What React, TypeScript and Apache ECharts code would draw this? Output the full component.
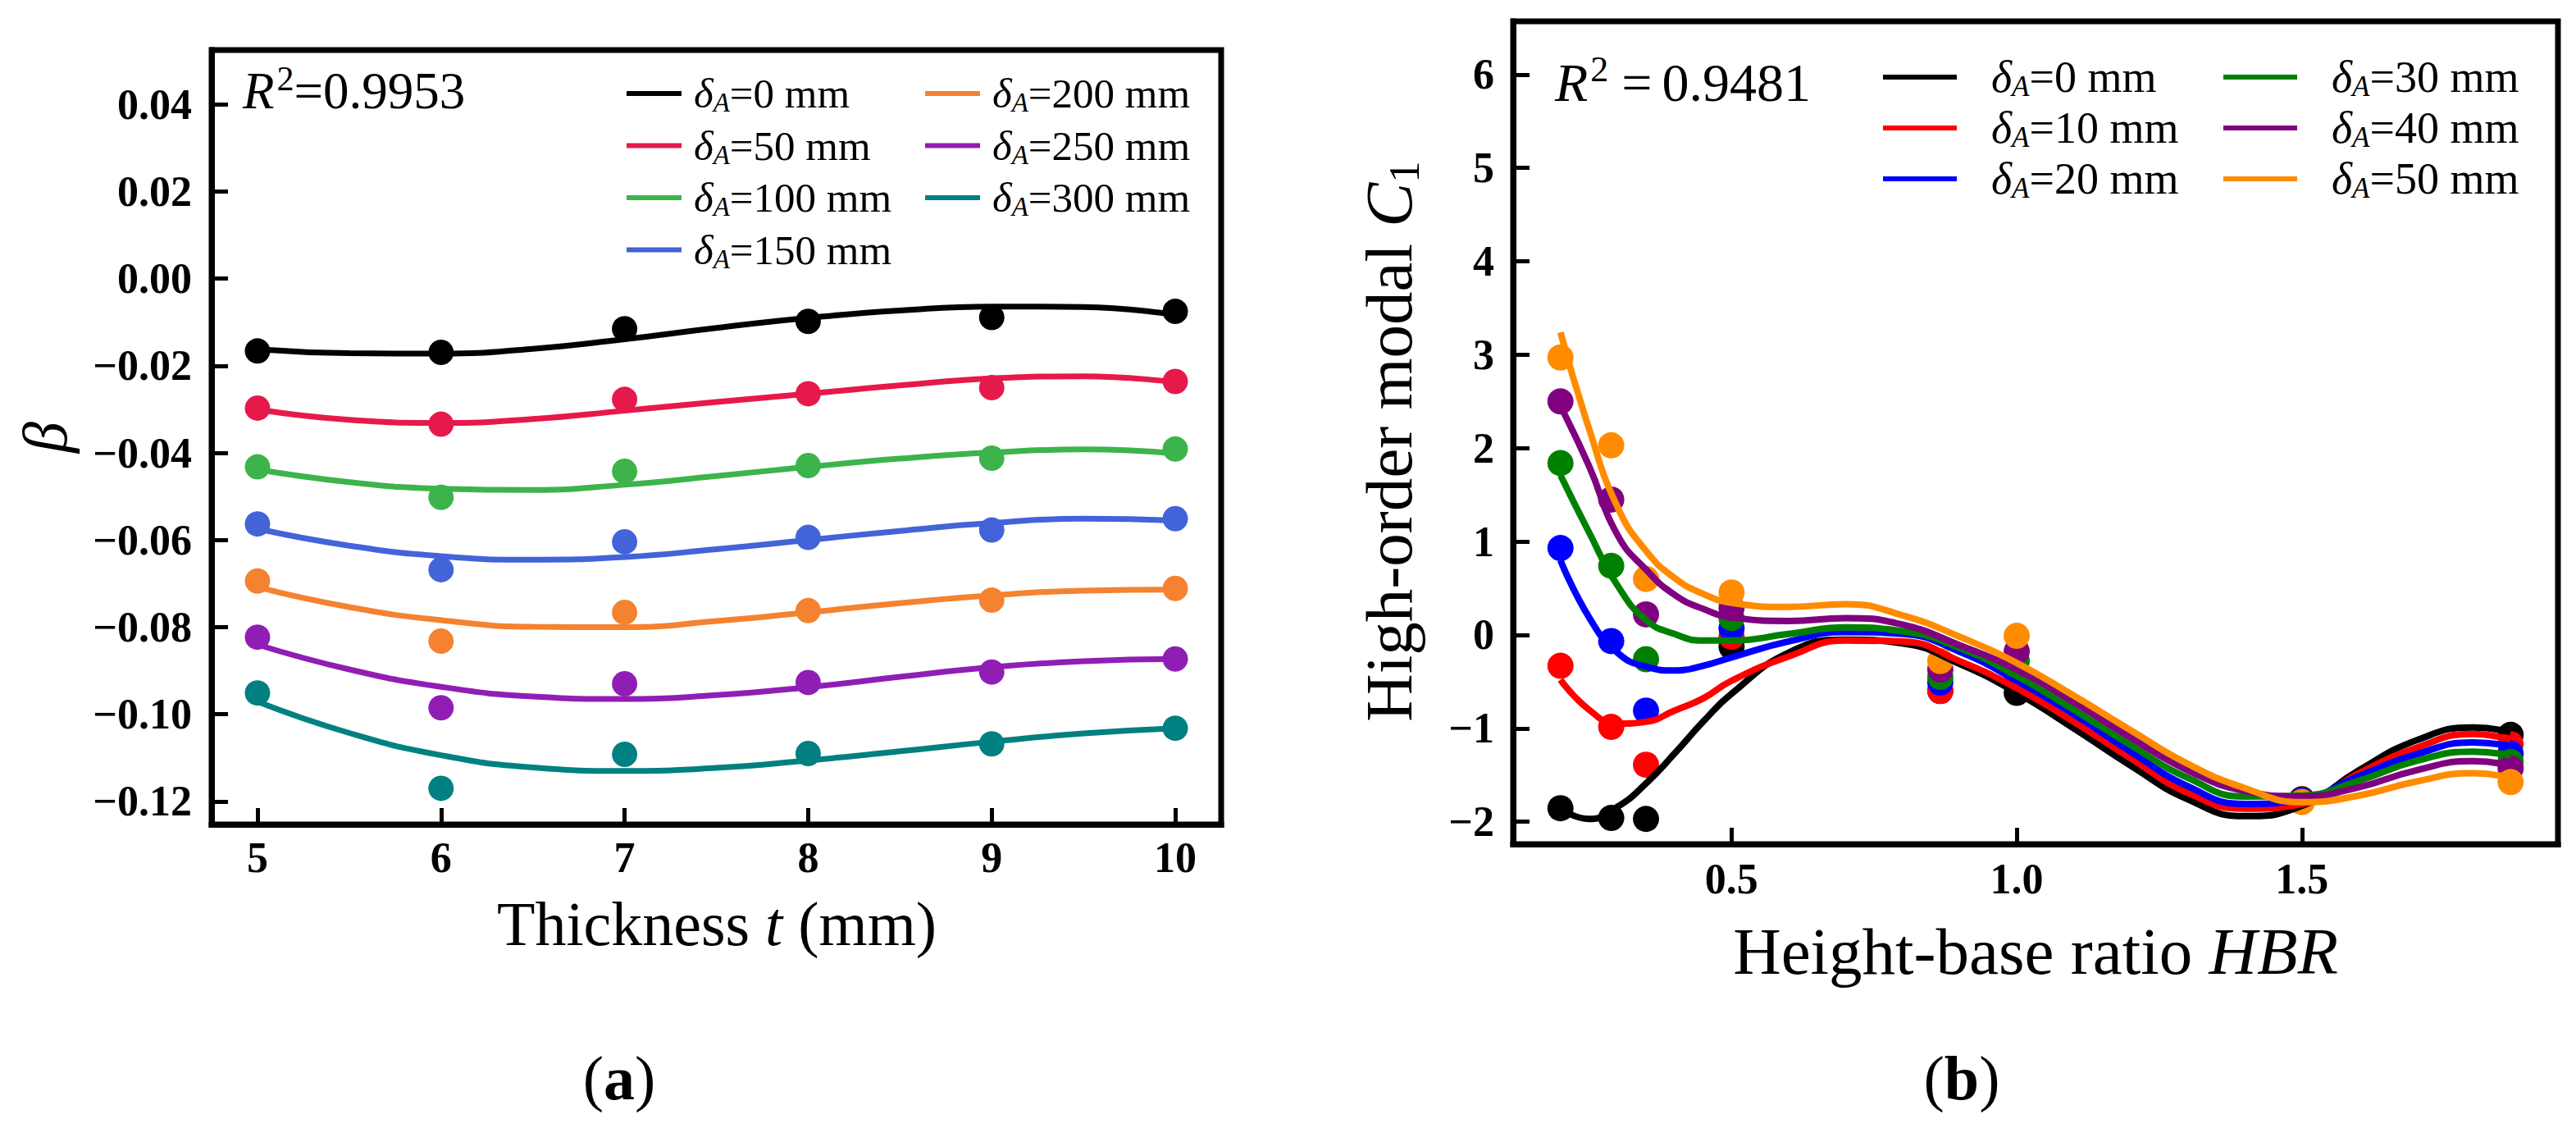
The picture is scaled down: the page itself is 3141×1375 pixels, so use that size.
import { useEffect, useRef } from 'react';
import * as echarts from 'echarts';

const SERIF = "'Liberation Serif', 'Times New Roman', serif";

// panel (a): beta against plate thickness
const thickness = [5, 6, 7, 8, 9, 10];
const thicknessTicks = [5, 6, 7, 8, 9, 10];
const betaTicks = [-0.12, -0.1, -0.08, -0.06, -0.04, -0.02, 0, 0.02, 0.04];
const deltaA = [0, 50, 100, 150, 200, 250, 300];
const colorsA = ['#000000', '#e6194b', '#3cb44b', '#4363d8', '#f58231', '#911eb4', '#008080'];
const betaMeasured = [
  [-0.0166, -0.0169, -0.0115, -0.0098, -0.0089, -0.0075],
  [-0.0297, -0.0334, -0.0277, -0.0264, -0.025, -0.0236],
  [-0.0432, -0.0502, -0.0442, -0.0429, -0.0412, -0.0391],
  [-0.0563, -0.0668, -0.0604, -0.0594, -0.0577, -0.0551],
  [-0.0694, -0.0832, -0.0766, -0.0762, -0.0738, -0.0711],
  [-0.0823, -0.0985, -0.093, -0.0927, -0.0903, -0.0873],
  [-0.0951, -0.117, -0.1092, -0.109, -0.1068, -0.1032],
];
const fitThickness = [5, 5.5, 6, 6.5, 7, 7.5, 8, 8.5, 9, 9.5, 10];
const betaFit = [
  [-0.0162, -0.0171, -0.0172, -0.0161, -0.0139, -0.0113, -0.009, -0.0073, -0.0064, -0.0065, -0.0083],
  [-0.03, -0.0324, -0.0331, -0.0322, -0.0303, -0.0283, -0.0264, -0.0245, -0.0229, -0.0224, -0.0238],
  [-0.0438, -0.0467, -0.0482, -0.0485, -0.0473, -0.0453, -0.0432, -0.0413, -0.0399, -0.0392, -0.0401],
  [-0.0574, -0.0613, -0.0637, -0.0645, -0.0639, -0.0621, -0.06, -0.0579, -0.0561, -0.0551, -0.0555],
  [-0.0708, -0.0754, -0.0784, -0.0799, -0.08, -0.0786, -0.0766, -0.0745, -0.0727, -0.0716, -0.0714],
  [-0.084, -0.0897, -0.0937, -0.0959, -0.0965, -0.0956, -0.0938, -0.0914, -0.0892, -0.0878, -0.0873],
  [-0.0971, -0.1043, -0.1094, -0.1122, -0.113, -0.1123, -0.1106, -0.1085, -0.1063, -0.1044, -0.1032],
];

// panel (b): high-order modal C1 against height-base ratio
const hbr = [0.2, 0.289, 0.35, 0.5, 0.866, 1.0, 1.5, 1.866];
const hbrTicks = [0.5, 1.0, 1.5];
const c1Ticks = [-2, -1, 0, 1, 2, 3, 4, 5, 6];
const deltaB = [0, 10, 20, 30, 40, 50];
const colorsB = ['#000000', '#ff0000', '#0000ff', '#008000', '#800080', '#ff8c00'];
const c1Measured = [
  [-1.855, -1.96, -1.97, -0.125, -0.6, -0.62, -1.76, -1.07],
  [-0.33, -0.985, -1.39, -0.02, -0.6, -0.5, -1.77, -1.17],
  [0.93, -0.065, -0.81, 0.07, -0.51, -0.39, -1.77, -1.27],
  [1.84, 0.74, -0.26, 0.18, -0.45, -0.28, -1.78, -1.36],
  [2.5, 1.45, 0.22, 0.29, -0.37, -0.175, -1.78, -1.43],
  [2.97, 2.03, 0.6, 0.455, -0.28, -0.01, -1.79, -1.575],
];
const fitHbr = [0.2, 0.25, 0.3, 0.35, 0.4, 0.45, 0.5, 0.6, 0.7, 0.8, 0.9, 1.0, 1.1, 1.2, 1.3, 1.4, 1.5, 1.6, 1.7, 1.8, 1.866];
const c1Fit = [
  [-1.86, -1.97, -1.84, -1.59, -1.27, -0.93, -0.63, -0.19, -0.05, -0.09, -0.31, -0.62, -1.0, -1.4, -1.76, -1.94, -1.83, -1.45, -1.13, -0.99, -1.04],
  [-0.48, -0.8, -0.95, -0.93, -0.81, -0.68, -0.49, -0.23, -0.06, -0.07, -0.28, -0.57, -0.93, -1.32, -1.69, -1.86, -1.81, -1.48, -1.21, -1.06, -1.12],
  [0.8, 0.19, -0.19, -0.34, -0.38, -0.33, -0.24, -0.07, 0.03, 0.01, -0.18, -0.49, -0.85, -1.25, -1.62, -1.81, -1.76, -1.51, -1.28, -1.15, -1.19],
  [1.71, 1.1, 0.53, 0.16, 0.01, -0.06, -0.06, 0.01, 0.08, 0.04, -0.14, -0.44, -0.8, -1.18, -1.53, -1.73, -1.72, -1.56, -1.35, -1.25, -1.29],
  [2.45, 1.81, 1.07, 0.7, 0.43, 0.28, 0.19, 0.15, 0.18, 0.11, -0.11, -0.37, -0.72, -1.1, -1.45, -1.67, -1.73, -1.63, -1.45, -1.35, -1.4],
  [3.24, 2.21, 1.37, 0.9, 0.61, 0.44, 0.345, 0.3, 0.33, 0.21, -0.02, -0.3, -0.65, -1.02, -1.38, -1.64, -1.79, -1.72, -1.57, -1.48, -1.53],
];

const minus = (s: string) => s.replace('-', '\u2212');

function legendRich(size: number, sub: number, drop: number, gap: number) {
  return {
    d: { fontFamily: SERIF, fontSize: size, fontStyle: 'italic', color: '#000', padding: [0, 0, 0, gap] },
    s: { fontFamily: SERIF, fontSize: sub, fontStyle: 'italic', color: '#000', padding: [drop, 0, 0, 0] },
    n: { fontFamily: SERIF, fontSize: size, color: '#000' },
  };
}

// series names carry a panel prefix ("a|" / "b|") so the two legends do not collide
const deltaLabel = (name: string) => `{d|δ}{s|A}{n|${name.slice(4)}}`;

function legendColumn(
  names: string[], left: number, top: number, lineLen: number,
  rich: object, lineHeight: number, gap: number,
) {
  return {
    show: true,
    orient: 'vertical',
    left,
    top,
    padding: 0,
    icon: 'rect',
    itemWidth: lineLen,
    itemHeight: 6,
    itemGap: gap,
    selectedMode: false,
    data: names,
    formatter: deltaLabel,
    textStyle: { lineHeight, rich },
  };
}

function tickAxis(gridIndex: number, min: number, max: number, ticks: number[], fmt: (v: number) => string, margin: number) {
  return {
    type: 'value',
    gridIndex,
    min,
    max,
    z: 10,
    axisLine: { show: true, onZero: false, lineStyle: { color: '#000', width: 7, cap: 'square' } },
    splitLine: { show: false },
    axisTick: { show: true, inside: true, length: 20, customValues: ticks, lineStyle: { color: '#000', width: 5 } },
    axisLabel: {
      customValues: ticks,
      margin,
      formatter: fmt,
      fontFamily: SERIF,
      fontWeight: 'bold',
      fontSize: 52,
      color: '#000',
    },
  };
}

function label(x: number, y: number, t: string, rich: object, align = 'left', rotation = 0) {
  return {
    type: 'text',
    x,
    y,
    rotation,
    style: { text: t, rich, fontFamily: SERIF, fill: '#000', align, verticalAlign: 'middle' },
  };
}

function buildOption() {
  const namesA = deltaA.map((d) => `a|δA=${d} mm`);
  const namesB = deltaB.map((d) => `b|δA=${d} mm`);

  const seriesA = deltaA.flatMap((_, i) => [
    {
      type: 'scatter',
      name: `a-points-${i}`,
      xAxisIndex: 0,
      yAxisIndex: 0,
      data: thickness.map((t, j) => [t, betaMeasured[i][j]]),
      symbolSize: 31,
      itemStyle: { color: colorsA[i], opacity: 1 },
    },
    {
      type: 'line',
      name: namesA[i],
      xAxisIndex: 0,
      yAxisIndex: 0,
      data: fitThickness.map((t, j) => [t, betaFit[i][j]]),
      smooth: 0.5,
      symbol: 'none',
      lineStyle: { color: colorsA[i], width: 7 },
      itemStyle: { color: colorsA[i] },
    },
  ]);

  const seriesB = deltaB.flatMap((_, i) => [
    {
      type: 'scatter',
      name: `b-points-${i}`,
      xAxisIndex: 1,
      yAxisIndex: 1,
      data: hbr.map((h, j) => [h, c1Measured[i][j]]),
      symbolSize: 32,
      itemStyle: { color: colorsB[i], opacity: 1 },
    },
    {
      type: 'line',
      name: namesB[i],
      xAxisIndex: 1,
      yAxisIndex: 1,
      data: fitHbr.map((h, j) => [h, c1Fit[i][j]]),
      smooth: 0.5,
      symbol: 'none',
      lineStyle: { color: colorsB[i], width: 8 },
      itemStyle: { color: colorsB[i] },
    },
  ]);

  const r2Rich = (size: number) => ({
    i: { fontFamily: SERIF, fontSize: size, fontStyle: 'italic', color: '#000' },
    p: { fontFamily: SERIF, fontSize: Math.round(size * 0.66), color: '#000', padding: [0, 0, Math.round(size * 0.47), 3] },
    e: { fontFamily: SERIF, fontSize: size, color: '#000', padding: [0, 12, 0, 16] },
    n: { fontFamily: SERIF, fontSize: size, color: '#000' },
  });
  const titleRich = (size: number) => ({
    n: { fontFamily: SERIF, fontSize: size, color: '#000' },
    i: { fontFamily: SERIF, fontSize: size, fontStyle: 'italic', color: '#000' },
    s: { fontFamily: SERIF, fontSize: Math.round(size * 0.66), color: '#000', padding: [Math.round(size * 0.45), 0, 0, 0] },
    b: { fontFamily: SERIF, fontSize: size, fontWeight: 'bold', color: '#000' },
  });

  const graphic = [
    label(296, 111, '{i|R}{p|2}{n|=0.9953}', r2Rich(63)),
    label(1896, 100, '{i|R}{p|2}{e|=}{n|0.9481}', r2Rich(66)),
    label(874, 1126, '{n|Thickness }{i|t}{n| (mm)}', titleRich(76), 'center'),
    label(2482, 1160, '{n|Height-base ratio }{i|HBR}', titleRich(81), 'center'),
    label(55, 533, '{i|β}', titleRich(76), 'center', Math.PI / 2),
    label(1694, 538, '{n|High-order modal }{i|C}{s|1}', titleRich(81), 'center', Math.PI / 2),
    label(755, 1314, '{n|(}{b|a}{n|)}', titleRich(76), 'center'),
    label(2392, 1314, '{n|(}{b|b}{n|)}', titleRich(76), 'center'),
  ];

  const richA = legendRich(51, 33, 22, 10);
  const richB = legendRich(54, 35, 23, 37);

  return {
    animation: false,
    backgroundColor: '#ffffff',
    grid: [
      { left: 258, top: 61, width: 1231, height: 944, show: true, borderColor: '#000', borderWidth: 7, backgroundColor: 'transparent' },
      { left: 1845, top: 26, width: 1274, height: 1003, show: true, borderColor: '#000', borderWidth: 7, backgroundColor: 'transparent' },
    ],
    xAxis: [
      tickAxis(0, 4.75, 10.25, thicknessTicks, (v: number) => String(v), 14),
      tickAxis(1, 0.117, 1.949, hbrTicks, (v: number) => v.toFixed(1), 16),
    ],
    yAxis: [
      tickAxis(0, -0.1253, 0.0525, betaTicks, (v: number) => minus(v.toFixed(2)), 24),
      tickAxis(1, -2.24, 6.57, c1Ticks, (v: number) => minus(String(v)), 23),
    ],
    legend: [
      legendColumn(namesA.slice(0, 4), 764, 88, 67, richA, 52, 10),
      legendColumn(namesA.slice(4), 1128, 88, 67, richA, 52, 10),
      legendColumn(namesB.slice(0, 3), 2296, 67, 90, richB, 54, 6),
      legendColumn(namesB.slice(3), 2711, 67, 90, richB, 54, 6),
    ],
    series: [...seriesA, ...seriesB],
    graphic,
  };
}

export default function App() {
  const ref = useRef<HTMLDivElement>(null);

  useEffect(() => {
    if (!ref.current) return;
    const chart = echarts.init(ref.current, undefined, { renderer: 'svg' });
    chart.setOption(buildOption() as any);
    return () => chart.dispose();
  }, []);

  return (
    <div
      ref={ref}
      style={{ position: 'fixed', left: 0, top: 0, width: 3141, height: 1375, background: '#fff' }}
    />
  );
}
